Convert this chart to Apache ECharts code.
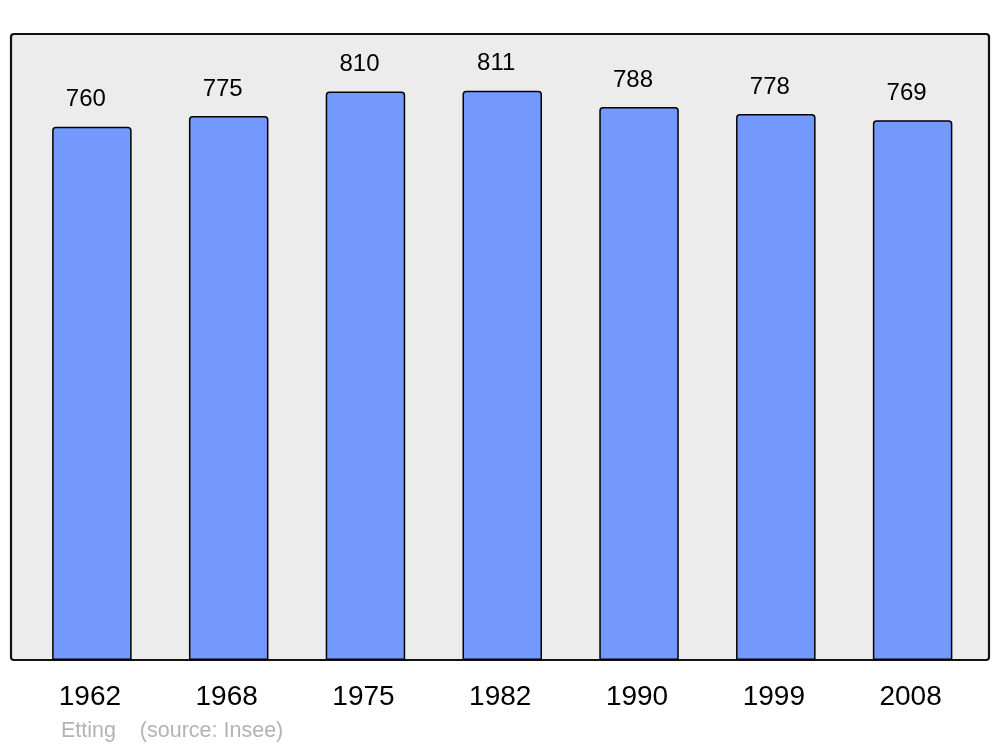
<!DOCTYPE html>
<html>
<head>
<meta charset="utf-8">
<script src="https://cdn.jsdelivr.net/npm/echarts@6/dist/echarts.min.js"></script>
<style>
html,body{margin:0;padding:0;background:#fff;}
#chart{width:1000px;height:747px;}
</style>
</head>
<body>
<div id="chart"></div>
<script>
const categories = ['1962', '1968', '1975', '1982', '1990', '1999', '2008'];
const population = [760, 775, 810, 811, 788, 778, 769];
const captionText = 'Etting    (source: Insee)';

const chart = echarts.init(document.getElementById('chart'));
chart.setOption({
  animation: false,
  backgroundColor: '#ffffff',
  textStyle: { fontFamily: 'Liberation Sans, Arial, sans-serif' },
  graphic: [
    {
      type: 'rect',
      z: -10,
      shape: { x: 11, y: 34, width: 978, height: 626, r: 3 },
      style: { fill: '#ececec', stroke: '#111111', lineWidth: 2.2 }
    },
    {
      type: 'text',
      left: 61,
      top: 720,
      style: {
        text: captionText,
        fill: '#b3b3b3',
        font: '21.5px "Liberation Sans", Arial, sans-serif'
      }
    }
  ],
  grid: { left: 23.5, right: 19, top: 34, bottom: 87 },
  xAxis: {
    type: 'category',
    data: categories,
    axisLine: { show: false },
    axisTick: { show: false },
    axisLabel: {
      color: '#000',
      fontSize: 28,
      margin: 23,
      padding: [0, 4, 0, 0],
      fontFamily: 'Liberation Sans, Arial, sans-serif'
    }
  },
  yAxis: {
    type: 'value',
    min: 0,
    max: 892,
    show: false,
    splitLine: { show: false }
  },
  series: [{
    type: 'bar',
    data: population,
    barWidth: 79.5,
    itemStyle: {
      color: '#7399ff',
      borderColor: '#000',
      borderWidth: 1.5,
      borderRadius: [3, 3, 0, 0]
    },
    label: {
      show: true,
      position: 'top',
      distance: 15,
      offset: [-6, 0],
      color: '#000',
      fontSize: 24,
      fontFamily: 'Liberation Sans, Arial, sans-serif'
    }
  }]
});
</script>
</body>
</html>
